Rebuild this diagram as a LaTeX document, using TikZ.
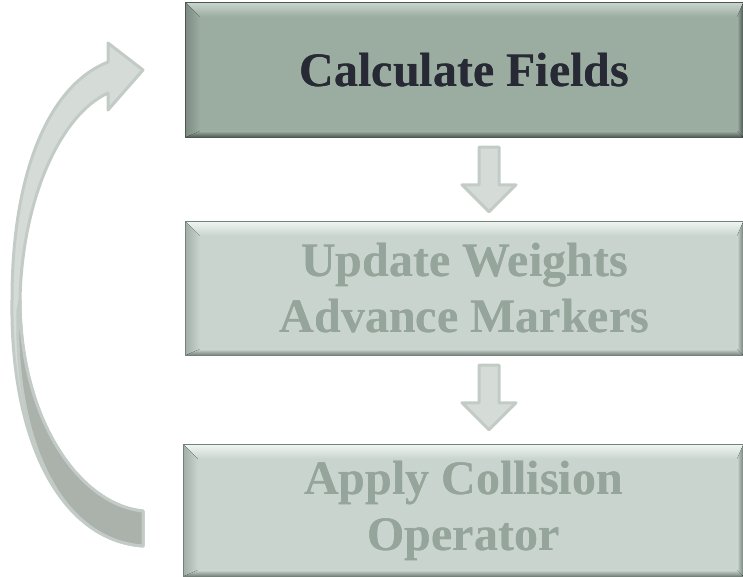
\documentclass[tikz,border=0pt]{standalone}
\usepackage{fontspec}
\setmainfont{Liberation Serif}
\usetikzlibrary{calc}
\definecolor{fillA}{HTML}{9BACA1}
\definecolor{lightA}{HTML}{C8D4CD}
\definecolor{midA}{HTML}{7E8C84}
\definecolor{darkA}{HTML}{4C5752}
\definecolor{fillB}{HTML}{C9D4CE}
\definecolor{lightB}{HTML}{EEF5F1}
\definecolor{midB}{HTML}{A3AFA9}
\definecolor{darkB}{HTML}{75817B}
\definecolor{textA}{HTML}{272A35}
\definecolor{textB}{HTML}{95A59B}
\definecolor{arrfill}{HTML}{D5DCD8}
\definecolor{arredge}{HTML}{C2CBC6}
\definecolor{arrdark}{HTML}{ABB1AB}
\newcommand\bevelbox[5]{%
  \fill[top color=#3, bottom color=#2] (#1.north west) -- (#1.north east) -- ($(#1.north east)+(-6,-14)$) -- ($(#1.north west)+(14,-14)$) -- cycle;
  \fill[left color=#4, right color=#2] (#1.north west) -- ($(#1.north west)+(14,-14)$) -- ($(#1.south west)+(14,6)$) -- (#1.south west) -- cycle;
  \fill[left color=#2, right color=#5] (#1.north east) -- ($(#1.north east)+(-6,-14)$) -- ($(#1.south east)+(-6,6)$) -- (#1.south east) -- cycle;
  \fill[top color=#2, bottom color=#5] (#1.south west) -- ($(#1.south west)+(14,6)$) -- ($(#1.south east)+(-6,6)$) -- (#1.south east) -- cycle;
  \draw[#5, line width=1.2pt] (#1.south west) -- (#1.north west) -- (#1.north east) -- (#1.south east) -- cycle;
}
\newcommand\blockarrow[2]{%
  \draw[arrstyle] let \p1=(#1), \p2=(#2) in
    (\x1-10pt,\y1) -- (\x1+10pt,\y1) -- (\x1+10pt,\y2+27pt) -- (\x1+27pt,\y2+27pt)
    -- (\x1,\y2) -- (\x1-27pt,\y2+27pt) -- (\x1-10pt,\y2+27pt) -- cycle;
}
\begin{document}
\begin{tikzpicture}[x=1pt,y=1pt,
  stepbox/.style={rectangle, inner sep=0pt, align=center,
    font=\bfseries\fontsize{48}{56}\selectfont},
  activebox/.style={stepbox, fill=fillA, text=textA},
  idlebox/.style={stepbox, fill=fillB, text=textB},
  arrstyle/.style={fill=arrfill, draw=arredge, line width=3pt, line join=round},
  curvestyle/.style={fill=arrfill, draw=arredge, line width=3pt, line join=round},
  curvedark/.style={fill=arrdark, draw=arredge, line width=3pt, line join=round}]
\useasboundingbox (0,0) rectangle (743,-577);
% curved return arrow
\draw[curvestyle] (143,-546) .. controls (60,-540) and (10,-440) .. (12,-300)
  .. controls (12,-170) and (50,-85) .. (108,-62) -- (108,-43) -- (143,-70)
  -- (108,-110) -- (108,-93) .. controls (60,-115) and (22,-200) .. (20,-300)
  .. controls (20,-420) and (80,-505) .. (143,-511) -- cycle;
\draw[curvedark] (20,-300) .. controls (20,-420) and (80,-505) .. (143,-511)
  -- (143,-546) .. controls (60,-540) and (14,-440) .. (18,-310) -- cycle;
% boxes
\node[activebox, minimum width=557, minimum height=134] (b1) at (464.5,-70) {Calculate Fields};
\node[idlebox, minimum width=557, minimum height=133] (b2) at (464.5,-288.5) {Update Weights\\Advance Markers};
\node[idlebox, minimum width=559, minimum height=131] (b3) at (463.5,-510.5) {Apply Collision\\Operator};
\bevelbox{b1}{fillA}{lightA}{midA}{darkA}
\bevelbox{b2}{fillB}{lightB}{midB}{darkB}
\bevelbox{b3}{fillB}{lightB}{midB}{darkB}
\node[activebox, fill=none] at (b1) {Calculate Fields};
\node[idlebox, fill=none] at (b2) {Update Weights\\Advance Markers};
\node[idlebox, fill=none] at (b3) {Apply Collision\\Operator};
% down arrows
\coordinate (a1s) at ($(b1.south)+(24.5,-10)$);
\coordinate (a1t) at ($(b2.north)+(24.5,10)$);
\coordinate (a2s) at ($(b2.south)+(24.5,-10)$);
\coordinate (a2t) at ($(b3.north)+(25.5,15)$);
\blockarrow{a1s}{a1t}
\blockarrow{a2s}{a2t}
\end{tikzpicture}
\end{document}
